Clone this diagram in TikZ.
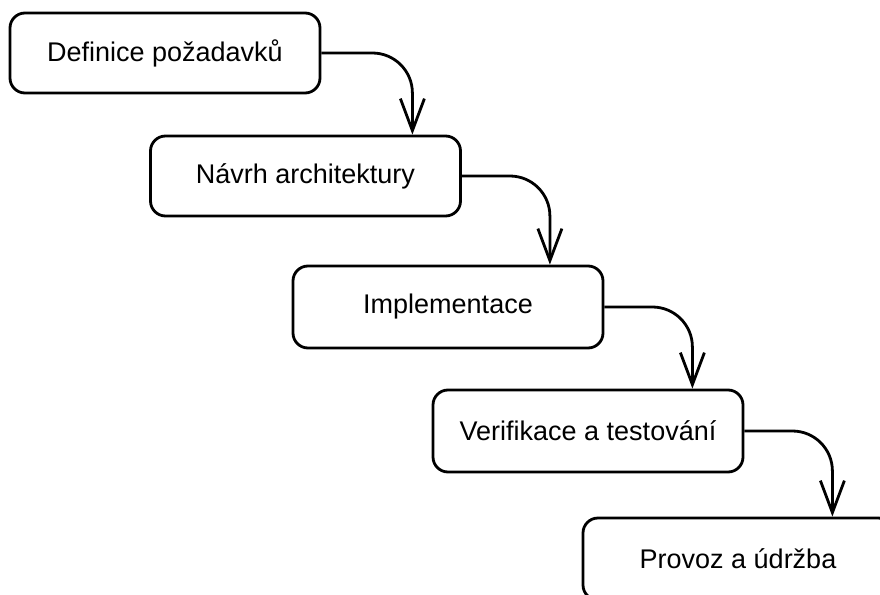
\documentclass[tikz,border=0pt]{standalone}
\usepackage{fontspec}
\setmainfont{Liberation Sans}
\usetikzlibrary{arrows.meta,calc}
\begin{document}
\begin{tikzpicture}[x=1pt,y=-1pt,
  stage/.style={draw=black,line width=2.8pt,rounded corners=15pt,fill=white,
    minimum width=310pt,minimum height=80pt,inner sep=0pt,
    font=\fontsize{27}{32}\selectfont},
  flow/.style={line width=2.8pt,rounded corners=40pt,
    -{Straight Barb[length=32pt,width=24pt,line width=2.8pt]}}]
\useasboundingbox (0,0) rectangle (880,594);
\fill[white] (0,0) rectangle (880,594);

% the five stages, stepped down to the right
\node[stage] (b1) at (165,53)  {\lower3pt\hbox{Definice požadavků}};
\node[stage] (b2) at (305.5,176) {\lower5pt\hbox{Návrh architektury}};
\node[stage,minimum height=82pt] (b3) at (448,307) {\lower4pt\hbox{Implementace}};
\node[stage,minimum height=82pt] (b4) at (588,431) {\lower4pt\hbox{Verifikace a testování}};
\node[stage,minimum height=82pt] (b5) at (738,559) {\lower3pt\hbox{Provoz a údržba}};

% turning points of the connectors
\coordinate (t1) at ($(b1.east)+(91,0)$);
\coordinate (t2) at ($(b2.east)+(88,0)$);
\coordinate (t3) at ($(b3.east)+(88,0)$);
\coordinate (t4) at ($(b4.east)+(88,0)$);

\draw[flow] (b1.east) -| (t1 |- b2.north);
\draw[flow] (b2.east) -| (t2 |- b3.north);
\draw[flow] (b3.east) -| (t3 |- b4.north);
\draw[flow] (b4.east) -| (t4 |- b5.north);
\end{tikzpicture}
\end{document}
